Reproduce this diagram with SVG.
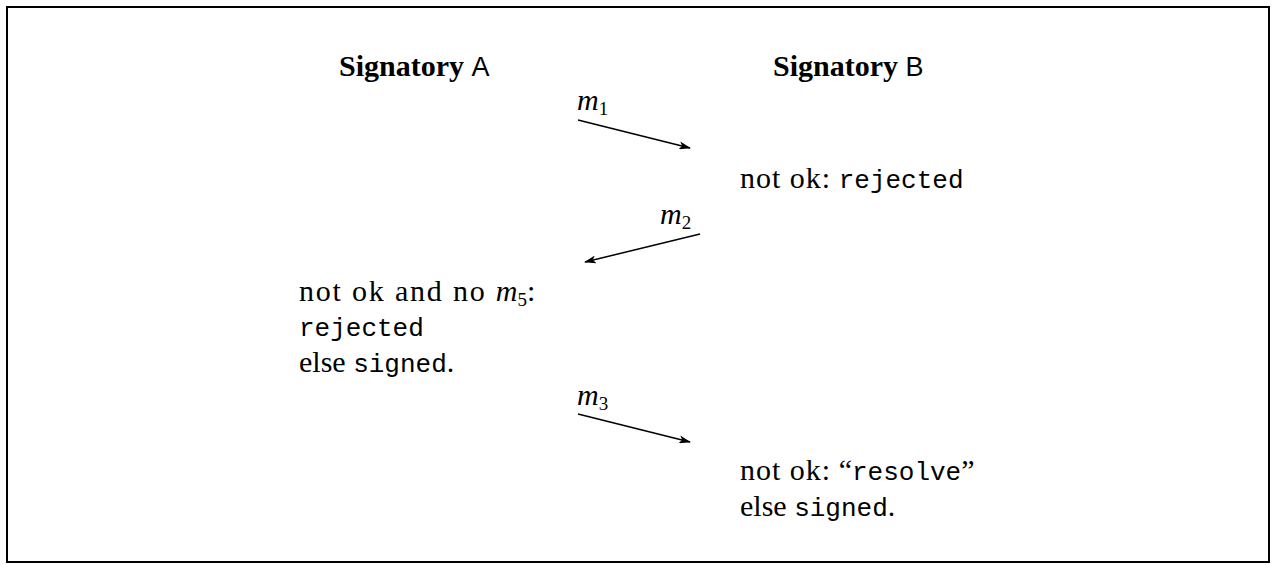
<svg xmlns="http://www.w3.org/2000/svg" width="1276" height="565" viewBox="0 0 1276 565">
<style>
.t{font-family:"Liberation Serif","DejaVu Serif",serif;font-size:30px;fill:#000}
.b{font-weight:bold}
.s{font-family:"Liberation Sans","DejaVu Sans",sans-serif;font-size:27px}
.m{font-family:"Liberation Mono","DejaVu Sans Mono",monospace;font-size:26px}
.i{font-style:italic}
.sub{font-size:19px}
.c{stroke:#000;stroke-width:1.5;fill:none}
</style>
<defs>
<marker id="ah" markerWidth="12" markerHeight="8" refX="11" refY="4" orient="auto" markerUnits="userSpaceOnUse">
<path d="M0,0 L12,4 L0,8 L3,4 Z" fill="#000"/>
</marker>
</defs>
<rect x="7" y="7" width="1262" height="555" fill="#fff" stroke="#000" stroke-width="2"/>
<g id="signatoryA"><text class="t" x="339" y="76"><tspan class="b">Signatory</tspan> <tspan class="s">A</tspan></text></g>
<g id="signatoryB"><text class="t" x="773" y="76"><tspan class="b">Signatory</tspan> <tspan class="s">B</tspan></text></g>
<g id="labels">
<text class="t i" x="577" y="110">m<tspan class="sub" font-style="normal" dy="5">1</tspan></text>
<text class="t i" x="660" y="224">m<tspan class="sub" font-style="normal" dy="5">2</tspan></text>
<text class="t i" x="577" y="405">m<tspan class="sub" font-style="normal" dy="5">3</tspan></text>
</g>
<g id="stateB1"><text class="t" x="740" y="188"><tspan letter-spacing="1">not ok:</tspan> <tspan class="m">rejected</tspan></text></g>
<g id="stateA">
<text class="t" x="299" y="301"><tspan letter-spacing="1.8">not ok and no </tspan><tspan class="i">m</tspan><tspan class="sub" dy="5">5</tspan><tspan dy="-5">:</tspan></text>
<text class="t m" x="299" y="336">rejected</text>
<text class="t" x="299" y="372">else <tspan class="m">signed</tspan>.</text>
</g>
<g id="stateB2">
<text class="t" x="740" y="480"><tspan letter-spacing="1">not ok:</tspan> “<tspan class="m">resolve</tspan>”</text>
<text class="t" x="740" y="516">else <tspan class="m">signed</tspan>.</text>
</g>
<g id="connectors">
<line class="c" x1="578" y1="120" x2="690" y2="148" marker-end="url(#ah)"/>
<line class="c" x1="700" y1="234" x2="585" y2="262" marker-end="url(#ah)"/>
<line class="c" x1="578" y1="414" x2="690" y2="442" marker-end="url(#ah)"/>
</g>
</svg>
